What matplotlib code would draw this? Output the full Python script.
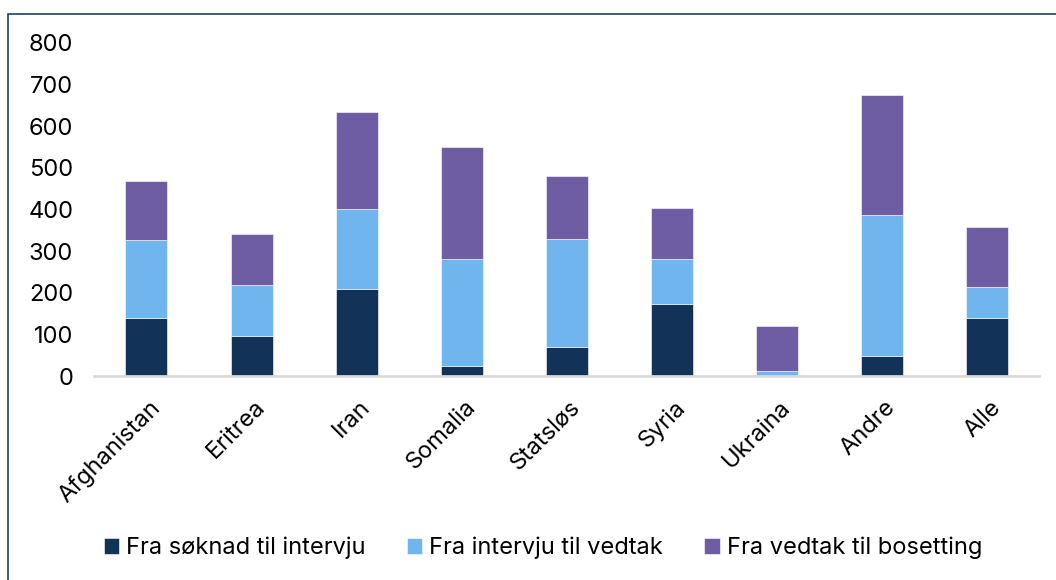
import matplotlib.pyplot as plt
from matplotlib.patches import Rectangle
import matplotlib.transforms as mtransforms
import numpy as np

plt.rcParams['font.family'] = ['Inter', 'DejaVu Sans']

# data
land = ['Afghanistan', 'Eritrea', 'Iran', 'Somalia', 'Statsløs', 'Syria', 'Ukraina', 'Andre', 'Alle']
soknad_intervju = [139, 95, 209, 23, 70, 173, 1, 48, 139]
intervju_vedtak = [187, 123, 191, 257, 258, 107, 10, 338, 74]
vedtak_bosetting = [143, 122, 233, 269, 152, 124, 108, 288, 146]
serier = ['Fra søknad til intervju', 'Fra intervju til vedtak', 'Fra vedtak til bosetting']
farger = ['#123257', '#71B5EE', '#6E5DA2']

fig = plt.figure(figsize=(10.56, 5.8), dpi=100)
ax = fig.add_axes([0.089, 0.3517, 0.895, 0.5743])

x = np.arange(len(land))
bunn = np.zeros(len(land))
for verdier, navn, farge in zip([soknad_intervju, intervju_vedtak, vedtak_bosetting], serier, farger):
    ax.bar(x, verdier, width=0.4, bottom=bunn, color=farge, label=navn,
           edgecolor='white', linewidth=0.4)
    bunn += np.array(verdier)

ax.set_xlim(-0.5, len(land) - 0.5)
ax.set_ylim(0, 800)
ax.set_yticks(range(0, 801, 100))
ax.tick_params(axis='y', length=0, pad=15, labelsize=17)
ax.tick_params(axis='x', length=0, labelsize=17)
ax.set_xticks(x)
ax.set_xticklabels(land, rotation=45, ha='right', va='top', rotation_mode='anchor')
offset = mtransforms.ScaledTranslation(2 / 72, -11 / 72, fig.dpi_scale_trans)
for lbl in ax.get_xticklabels():
    lbl.set_transform(lbl.get_transform() + offset)

for s in ['top', 'right', 'left']:
    ax.spines[s].set_visible(False)
ax.spines['bottom'].set_color('#D9D9D9')
ax.spines['bottom'].set_linewidth(2)

ax.legend(loc='center', bbox_to_anchor=(543 / 1056, 1 - 548 / 580), bbox_transform=fig.transFigure,
          ncol=3, frameon=False, fontsize=17, handlelength=0.65, handleheight=0.65,
          handletextpad=0.3, columnspacing=1.75)

# ramme rundt figuren
fig.patches.append(Rectangle((8 / 1056, -0.1), 1.2, 1.1 - 14 / 580, transform=fig.transFigure,
                             fill=False, edgecolor='#1F3F5F', linewidth=1.2))

fig.savefig('out.png', dpi=100)
